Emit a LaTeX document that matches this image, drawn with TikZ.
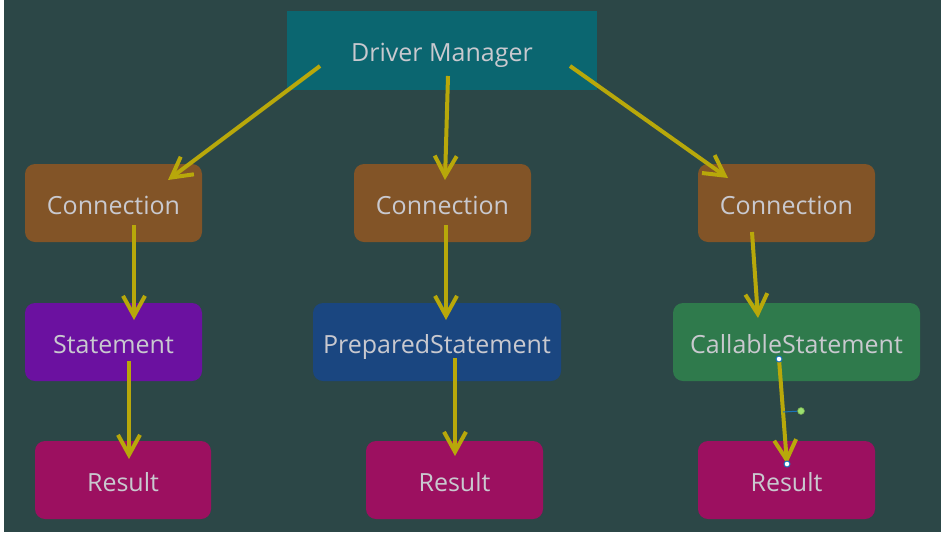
\documentclass[tikz,border=0pt]{standalone}
\usepackage{fontspec}
\setmainfont{Open Sans}
\usetikzlibrary{arrows.meta}
\definecolor{bgc}{HTML}{2C4747}
\definecolor{tealc}{HTML}{0B6670}
\definecolor{brownc}{HTML}{825427}
\definecolor{purplec}{HTML}{6B11A0}
\definecolor{bluec}{HTML}{1A4680}
\definecolor{greenc}{HTML}{2F7A4C}
\definecolor{magc}{HTML}{9C1060}
\definecolor{txtc}{HTML}{C9C9CF}
\definecolor{arrc}{HTML}{B8A80A}
\definecolor{hblue}{HTML}{1A73B8}
\definecolor{hgreen}{HTML}{9BE070}
\tikzset{
  box/.style={rounded corners=10pt, inner sep=0pt, text=txtc,
    font=\fontsize{25}{30}\selectfont, text height=22pt, text depth=0pt,
    minimum height=78pt},
  arr/.style={draw=arrc, line width=4pt,
    -{Straight Barb[length=20pt,width=22pt,line width=4pt]}},
  handle/.style={circle, draw=hblue, fill=white, line width=1pt,
    minimum size=6pt, inner sep=0pt},
}
\begin{document}
\begin{tikzpicture}[x=1pt,y=-1pt]
\useasboundingbox (0,0) rectangle (944,536);
\fill[bgc] (0,0) rectangle (944,536);
\fill[white] (0,0) rectangle (4,536);
\fill[white] (0,532) rectangle (944,536);
\fill[white] (941,0) rectangle (944,536);
% nodes
\node[box, rounded corners=0pt, fill=tealc, minimum width=310pt, minimum height=79pt] (dm) at (442,50.5) {Driver Manager};
\node[box, fill=brownc, minimum width=177pt] (c1) at (113.5,203) {Connection};
\node[box, fill=brownc, minimum width=177pt] (c2) at (442.5,203) {Connection};
\node[box, fill=brownc, minimum width=177pt] (c3) at (786.5,203) {Connection};
\node[box, fill=purplec, minimum width=177pt] (s1) at (113.5,342) {Statement};
\node[box, fill=bluec, minimum width=248pt] (s2) at (437,342) {PreparedStatement};
\node[box, fill=greenc, minimum width=247pt] (s3) at (796.5,342) {CallableStatement};
\node[box, fill=magc, minimum width=176pt] (r1) at (123,480) {Result};
\node[box, fill=magc, minimum width=177pt] (r2) at (454.5,480) {Result};
\node[box, fill=magc, minimum width=177pt] (r3) at (786.5,480) {Result};
% connector end points
\coordinate (a1s) at (320,66);  \coordinate (a1e) at (168,180);
\coordinate (a2s) at (448,76);  \coordinate (a2e) at (445,180);
\coordinate (a3s) at (570,66);  \coordinate (a3e) at (728,178);
\coordinate (a4s) at (134,225); \coordinate (a4e) at (134,320);
\coordinate (a5s) at (446,225); \coordinate (a5e) at (446,320);
\coordinate (a6s) at (752,232); \coordinate (a6e) at (758,318);
\coordinate (a7s) at (129,361); \coordinate (a7e) at (129,459);
\coordinate (a8s) at (455,358); \coordinate (a8e) at (455,456);
\coordinate (a9s) at (779,359); \coordinate (a9e) at (787,464);
\foreach \i in {1,...,9} { \draw[arr] (a\i s) -- (a\i e); }
% selection handles
\coordinate (hm) at (783,412);
\node[circle, fill=hgreen, draw=hgreen!70!black, line width=0.6pt, minimum size=7pt, inner sep=0pt] (hg) at (801,411) {};
\draw[hblue, line width=1pt] (hm) -- (hg);
\node[handle] (h1) at (a9s) {};
\node[handle] (h2) at (a9e) {};
\end{tikzpicture}
\end{document}
